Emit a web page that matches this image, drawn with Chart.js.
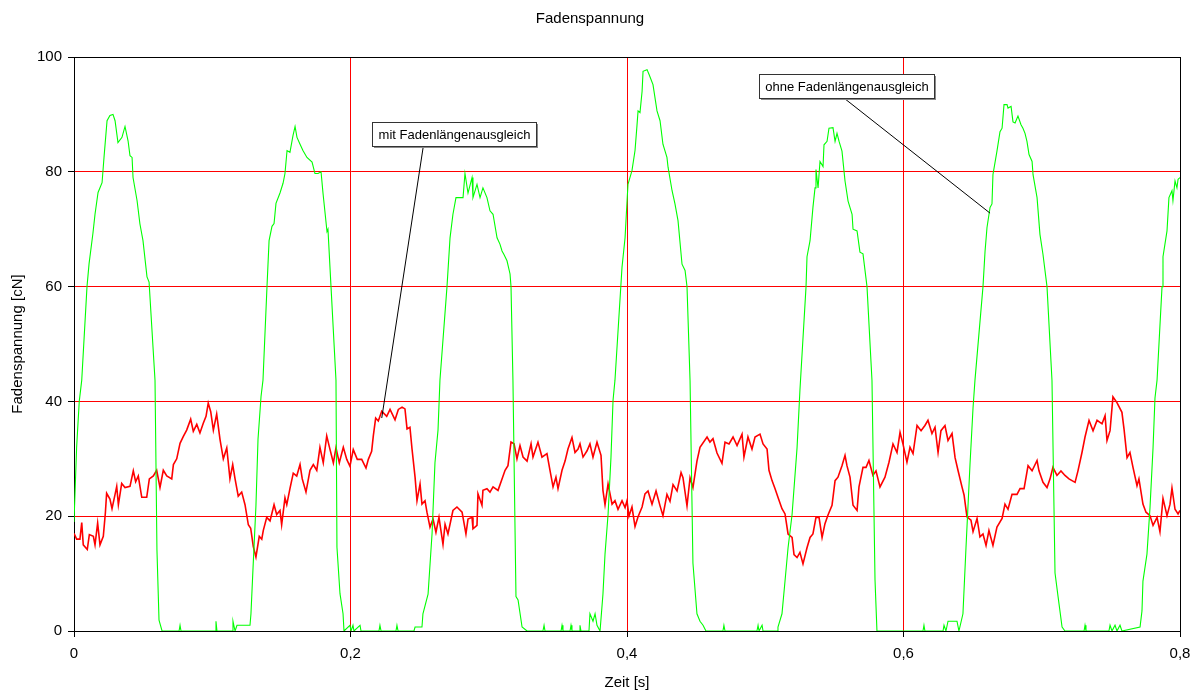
<!DOCTYPE html>
<html>
<head>
<meta charset="utf-8">
<title>Fadenspannung</title>
<script src="https://cdn.jsdelivr.net/npm/chart.js@4.4.1/dist/chart.umd.min.js"></script>
<style>
  html, body { margin: 0; padding: 0; background: #fff; }
  #wrap { width: 1199px; height: 698px; }
</style>
</head>
<body>
<div id="wrap"><canvas id="chart" width="1199" height="698"></canvas></div>
<script>
// time axis in seconds, force in cN

// mit Fadenlängenausgleich (red)
const redTime = [
  0, 0.0019, 0.0043, 0.0056, 0.0067, 0.0096, 0.0111, 0.0140, 0.0152, 0.0171,
  0.0188, 0.0212, 0.0227, 0.0236, 0.0260, 0.0275, 0.0297, 0.0309, 0.0321, 0.0345,
  0.0369, 0.0405, 0.0429, 0.0446, 0.0465, 0.0490, 0.0526, 0.0545, 0.0574, 0.0598,
  0.0622, 0.0646, 0.0671, 0.0707, 0.0719, 0.0743, 0.0767, 0.0791, 0.0815, 0.0844,
  0.0863, 0.0888, 0.0911, 0.0935, 0.0955, 0.0971, 0.0989, 0.1008, 0.1032, 0.1056,
  0.1080, 0.1105, 0.1128, 0.1148, 0.1165, 0.1188, 0.1213, 0.1237, 0.1261, 0.1278,
  0.1297, 0.1316, 0.1340, 0.1358, 0.1369, 0.1394, 0.1418, 0.1447, 0.1466, 0.1490,
  0.1502, 0.1526, 0.1539, 0.1562, 0.1586, 0.1611, 0.1635, 0.1651, 0.1678, 0.1707,
  0.1731, 0.1756, 0.1779, 0.1803, 0.1828, 0.1852, 0.1876, 0.1895, 0.1919, 0.1948,
  0.1973, 0.1996, 0.2020, 0.2049, 0.2081, 0.2112, 0.2129, 0.2153, 0.2165, 0.2182,
  0.2201, 0.2226, 0.2262, 0.2286, 0.2322, 0.2346, 0.2373, 0.2394, 0.2409, 0.2430,
  0.2445, 0.2467, 0.2481, 0.2503, 0.2517, 0.2539, 0.2553, 0.2575, 0.2597, 0.2618,
  0.2640, 0.2669, 0.2684, 0.2705, 0.2741, 0.2770, 0.2807, 0.2835, 0.2850, 0.2879,
  0.2886, 0.2915, 0.2922, 0.2951, 0.2958, 0.2987, 0.3009, 0.3031, 0.3067, 0.3096,
  0.3118, 0.3139, 0.3161, 0.3183, 0.3204, 0.3226, 0.3248, 0.3277, 0.3306, 0.3320,
  0.3356, 0.3385, 0.3421, 0.3443, 0.3465, 0.3486, 0.3501, 0.3530, 0.3552, 0.3573,
  0.3602, 0.3624, 0.3646, 0.3660, 0.3682, 0.3711, 0.3732, 0.3754, 0.3783, 0.3812,
  0.3826, 0.3841, 0.3863, 0.3892, 0.3913, 0.3935, 0.3964, 0.3986, 0.4000, 0.4014,
  0.4036, 0.4058, 0.4080, 0.4109, 0.4130, 0.4152, 0.4181, 0.4210, 0.4239, 0.4260,
  0.4289, 0.4311, 0.4333, 0.4362, 0.4391, 0.4405, 0.4434, 0.4456, 0.4477, 0.4506,
  0.4528, 0.4579, 0.4600, 0.4622, 0.4651, 0.4687, 0.4709, 0.4738, 0.4767, 0.4796,
  0.4832, 0.4846, 0.4875, 0.4904, 0.4926, 0.4962, 0.4984, 0.5013, 0.5027, 0.5049,
  0.5071, 0.5092, 0.5121, 0.5143, 0.5165, 0.5194, 0.5208, 0.5230, 0.5251, 0.5273,
  0.5302, 0.5324, 0.5345, 0.5367, 0.5389, 0.5411, 0.5432, 0.5454, 0.5483, 0.5505,
  0.5526, 0.5555, 0.5577, 0.5591, 0.5613, 0.5635, 0.5664, 0.5678, 0.5707, 0.5729,
  0.5750, 0.5779, 0.5801, 0.5830, 0.5866, 0.5895, 0.5924, 0.5953, 0.5975, 0.5996,
  0.6025, 0.6047, 0.6069, 0.6098, 0.6127, 0.6155, 0.6177, 0.6206, 0.6228, 0.6250,
  0.6271, 0.6300, 0.6322, 0.6351, 0.6373, 0.6394, 0.6423, 0.6438, 0.6459, 0.6488,
  0.6503, 0.6532, 0.6553, 0.6575, 0.6597, 0.6618, 0.6647, 0.6676, 0.6713, 0.6734,
  0.6756, 0.6785, 0.6821, 0.6843, 0.6872, 0.6901, 0.6930, 0.6966, 0.6980, 0.7009,
  0.7038, 0.7060, 0.7081, 0.7110, 0.7139, 0.7168, 0.7197, 0.7241, 0.7262, 0.7291,
  0.7313, 0.7342, 0.7371, 0.7400, 0.7436, 0.7458, 0.7472, 0.7494, 0.7515, 0.7544,
  0.7580, 0.7595, 0.7617, 0.7638, 0.7660, 0.7689, 0.7703, 0.7732, 0.7754, 0.7783,
  0.7805, 0.7834, 0.7855, 0.7877, 0.7906, 0.7928, 0.7942, 0.7964, 0.7986, 0.8000
];
const redForce = [
  17.0, 16.0, 16.0, 18.9, 15.0, 14.2, 16.8, 16.5, 15.0, 18.8,
  15.0, 16.5, 20.6, 24.0, 23.0, 21.3, 23.8, 25.2, 22.0, 25.7,
  25.0, 25.2, 27.9, 26.0, 27.0, 23.3, 23.3, 26.5, 27.0, 28.0,
  25.0, 28.0, 27.0, 26.5, 29.0, 30.0, 32.7, 33.9, 35.0, 36.9,
  34.8, 36.0, 34.5, 36.2, 37.4, 39.7, 38.2, 35.0, 37.8, 33.4,
  30.0, 31.9, 26.5, 29.0, 26.5, 23.5, 24.2, 22.0, 18.5, 17.9,
  14.7, 12.9, 16.5, 16.0, 17.5, 19.8, 19.2, 22.0, 20.3, 21.0,
  18.5, 23.2, 22.0, 24.8, 27.5, 27.0, 29.0, 26.5, 24.2, 28.0,
  29.0, 28.0, 32.0, 29.3, 34.0, 31.6, 29.3, 31.9, 29.3, 32.0,
  29.9, 28.7, 31.6, 29.9, 29.9, 28.4, 29.9, 31.3, 34.0, 37.1,
  36.6, 38.3, 37.4, 38.6, 36.8, 38.6, 39.0, 38.7, 35.2, 35.5,
  31.7, 26.8, 22.7, 25.6, 22.1, 22.7, 20.7, 18.1, 19.5, 17.2,
  19.8, 15.1, 18.6, 16.9, 21.0, 21.6, 20.7, 16.9, 19.5, 19.8,
  17.8, 18.4, 23.9, 21.9, 24.5, 24.8, 24.2, 25.1, 24.5, 26.5,
  28.0, 28.8, 32.9, 32.6, 30.0, 32.3, 30.3, 29.6, 32.6, 30.3,
  32.9, 30.3, 30.9, 28.0, 25.1, 26.8, 24.8, 28.0, 29.6, 31.7,
  33.7, 31.1, 31.7, 32.6, 30.3, 31.4, 32.6, 30.3, 32.9, 30.6,
  24.5, 22.0, 25.6, 22.1, 22.7, 21.2, 22.7, 21.5, 22.7, 20.0,
  21.6, 18.2, 19.9, 21.6, 23.9, 24.4, 22.1, 24.4, 21.8, 20.1,
  23.8, 22.6, 25.5, 24.4, 27.6, 26.7, 21.8, 26.7, 25.0, 29.6,
  32.0, 33.8, 32.9, 33.5, 31.0, 29.2, 32.9, 32.6, 33.8, 32.3,
  34.3, 30.3, 33.8, 31.7, 33.8, 34.3, 32.6, 31.7, 28.0, 26.2,
  24.8, 23.3, 21.3, 20.4, 16.9, 16.3, 13.3, 12.8, 13.7, 11.7,
  14.5, 16.3, 16.9, 19.8, 19.8, 16.3, 18.7, 20.2, 21.9, 26.2,
  26.8, 28.8, 30.6, 28.8, 26.8, 21.9, 21.0, 25.1, 28.5, 28.5,
  29.7, 27.1, 27.9, 25.1, 26.8, 29.4, 32.6, 31.1, 34.6, 32.6,
  29.4, 32.0, 30.9, 35.8, 34.9, 35.8, 36.7, 34.4, 35.5, 31.1,
  34.9, 35.8, 33.2, 34.4, 30.2, 28.0, 25.1, 23.7, 19.9, 19.3,
  17.3, 19.6, 16.4, 16.9, 14.9, 17.5, 14.9, 18.1, 19.6, 22.1,
  21.2, 23.8, 23.8, 24.8, 24.8, 28.8, 27.9, 29.7, 27.9, 25.9,
  25.0, 26.5, 28.5, 27.1, 27.9, 27.1, 26.5, 25.9, 27.9, 31.1,
  33.8, 36.7, 34.9, 36.7, 36.1, 37.5, 33.2, 34.9, 40.8, 39.8,
  38.1, 35.2, 30.2, 31.1, 28.5, 25.3, 26.5, 22.1, 20.7, 20.1,
  18.4, 19.8, 17.3, 23.1, 20.1, 22.1, 24.9, 21.2, 20.4, 21.0
];

// ohne Fadenlängenausgleich (green)
const greenTime = [
  0, 0.0019, 0.0038, 0.0056, 0.0094, 0.0109, 0.0137, 0.0152, 0.0174, 0.0203,
  0.0217, 0.0239, 0.0260, 0.0282, 0.0297, 0.0318, 0.0347, 0.0369, 0.0391, 0.0405,
  0.0420, 0.0427, 0.0456, 0.0477, 0.0499, 0.0528, 0.0543, 0.0586, 0.0600, 0.0615,
  0.0637, 0.0760, 0.0767, 0.0774, 0.1020, 0.1027, 0.1034, 0.1143, 0.1150, 0.1165,
  0.1179, 0.1201, 0.1273, 0.1280, 0.1295, 0.1316, 0.1331, 0.1353, 0.1367, 0.1396,
  0.1411, 0.1432, 0.1447, 0.1461, 0.1490, 0.1512, 0.1526, 0.1541, 0.1562, 0.1584,
  0.1599, 0.1613, 0.1635, 0.1656, 0.1685, 0.1722, 0.1743, 0.1765, 0.1787, 0.1801,
  0.1830, 0.1837, 0.1859, 0.1895, 0.1902, 0.1924, 0.1946, 0.1953, 0.1996, 0.2004,
  0.2018, 0.2025, 0.2069, 0.2076, 0.2206, 0.2213, 0.2221, 0.2329, 0.2336, 0.2344,
  0.2459, 0.2467, 0.2517, 0.2524, 0.2561, 0.2590, 0.2611, 0.2633, 0.2647, 0.2698,
  0.2720, 0.2741, 0.2763, 0.2785, 0.2814, 0.2828, 0.2850, 0.2879, 0.2886, 0.2915,
  0.2937, 0.2958, 0.2987, 0.3009, 0.3031, 0.3060, 0.3081, 0.3096, 0.3110, 0.3132,
  0.3154, 0.3161, 0.3175, 0.3197, 0.3212, 0.3241, 0.3277, 0.3392, 0.3400, 0.3407,
  0.3523, 0.3530, 0.3537, 0.3588, 0.3595, 0.3602, 0.3653, 0.3660, 0.3667, 0.3725,
  0.3732, 0.3754, 0.3769, 0.3783, 0.3805, 0.3826, 0.3841, 0.3863, 0.3884, 0.3899,
  0.3913, 0.3964, 0.3986, 0.4007, 0.4036, 0.4058, 0.4072, 0.4080, 0.4094, 0.4109,
  0.4116, 0.4145, 0.4159, 0.4188, 0.4217, 0.4239, 0.4260, 0.4289, 0.4297, 0.4326,
  0.4347, 0.4369, 0.4398, 0.4420, 0.4434, 0.4456, 0.4477, 0.4506, 0.4528, 0.4550,
  0.4571, 0.4694, 0.4701, 0.4709, 0.4940, 0.4948, 0.4955, 0.4977, 0.4984, 0.5085,
  0.5092, 0.5121, 0.5143, 0.5165, 0.5194, 0.5230, 0.5251, 0.5295, 0.5302, 0.5324,
  0.5345, 0.5360, 0.5367, 0.5382, 0.5396, 0.5418, 0.5425, 0.5447, 0.5461, 0.5490,
  0.5505, 0.5519, 0.5534, 0.5555, 0.5577, 0.5599, 0.5628, 0.5635, 0.5664, 0.5685,
  0.5707, 0.5736, 0.5772, 0.5794, 0.5808, 0.6141, 0.6148, 0.6155, 0.6286, 0.6293,
  0.6307, 0.6322, 0.6387, 0.6401, 0.6430, 0.6452, 0.6481, 0.6503, 0.6517, 0.6575,
  0.6590, 0.6604, 0.6626, 0.6640, 0.6647, 0.6676, 0.6698, 0.6713, 0.6727, 0.6749,
  0.6756, 0.6778, 0.6792, 0.6807, 0.6828, 0.6850, 0.6864, 0.6879, 0.6893, 0.6908,
  0.6930, 0.6937, 0.6966, 0.6987, 0.7009, 0.7038, 0.7074, 0.7096, 0.7118, 0.7147,
  0.7168, 0.7306, 0.7313, 0.7320, 0.7486, 0.7494, 0.7508, 0.7530, 0.7544, 0.7566,
  0.7580, 0.7711, 0.7725, 0.7732, 0.7761, 0.7783, 0.7805, 0.7819, 0.7834, 0.7870,
  0.7877, 0.7906, 0.7920, 0.7942, 0.7949, 0.7964, 0.7978, 0.7986, 0.8000
];
const greenForce = [
  19, 32, 40, 43.7, 60, 64, 69.3, 72.6, 76.4, 78.1,
  82.5, 88.9, 89.8, 90, 88.9, 85.1, 86, 87.9, 85.4, 82.8,
  82.5, 79, 75, 70.9, 68, 61.7, 60.8, 43.7, 14.1, 1.9,
  0, 0, 1, 0, 0, 1.7, 0, 0, 1.7, 0,
  1, 1, 1, 3, 11, 21.8, 33.4, 40.9, 43.7, 60,
  68, 70.5, 71, 74.5, 76.3, 78, 79.7, 83.7, 83.4, 86.3,
  87.9, 86, 84.8, 83.7, 82.5, 81.7, 79.7, 79.7, 80, 76.3,
  69.6, 70, 60, 43.7, 14.6, 6.5, 3, 0, 1, 0,
  1, 0, 1, 0, 0, 1, 0, 0, 1, 0,
  0, 0.7, 0.7, 3, 6.4, 17, 29.3, 35, 43.7, 60,
  68.5, 72.6, 75.5, 75.5, 75.5, 79.7, 76.3, 79, 75.5, 77.8,
  75.5, 77.2, 75.5, 73.2, 72.6, 68.5, 67.4, 66.2, 65.6, 64.5,
  62.2, 60, 43.7, 6, 5.4, 0.7, 0, 0, 1, 0,
  0, 1, 0, 0, 1, 0, 0, 1, 0, 0,
  3, 1.7, 3, 1, 0, 6.4, 13.4, 20.3, 30.2, 40.2,
  43.7, 63.4, 68.5, 77.8, 80.2, 83.7, 88, 90.6, 90.3, 94,
  97.5, 97.8, 97, 95.2, 90.6, 88.9, 84.8, 82.5, 80.8, 76.7,
  74.4, 71.5, 63.9, 62.8, 60, 43.7, 11.8, 3, 1.7, 1,
  0, 0, 1, 0, 0, 1, 0, 1, 0, 0,
  0.7, 3, 8.7, 14.5, 20.3, 31.9, 42, 60, 65.2, 68,
  73.8, 77.2, 80.4, 77.2, 81.8, 80.9, 84.7, 85.3, 87.6, 87.7,
  85.3, 86.7, 85.3, 83.6, 78.4, 74.9, 72.6, 70, 69.7, 66,
  65.7, 60, 43.7, 8.9, 0, 0, 1, 0, 0, 1,
  0, 1.7, 1.7, 0, 3, 14.5, 29, 38.9, 43.7, 60,
  66.2, 70.3, 73.8, 74.4, 79.5, 83.6, 87, 87.6, 91.7, 91.7,
  91.1, 91.4, 88.7, 88.5, 89.7, 88.2, 87.6, 86.7, 85.3, 83,
  81.8, 79.5, 75.5, 69.1, 65.6, 60, 43.7, 10.1, 6, 0.7,
  0, 0, 1, 0, 0, 1, 0, 1, 0, 1,
  0, 0.7, 3.5, 8.7, 13.4, 21.5, 31.9, 40.6, 43.7, 60,
  65.2, 69.7, 75.5, 76.7, 75, 78.4, 77.2, 78.7, 79
];

// callouts: text, box top-left (s, cN), leader line from box to curve (s, cN)
const calloutText = ['mit Fadenlängenausgleich', 'ohne Fadenlängenausgleich'];
const calloutBoxAt = [[0.2153, 88.7], [0.4957, 97.0]];
const calloutLineFrom = [[0.2527, 84.5], [0.5577, 92.7]];
const calloutLineTo = [[0.2226, 37.1], [0.6626, 72.8]];

const FONT = "'Liberation Sans', Arial, Helvetica, sans-serif";
Chart.defaults.font.family = FONT;
Chart.defaults.color = '#000';

function toPoints(times, values) {
  return times.map((t, i) => ({ x: t, y: values[i] }));
}

// comma as decimal separator, like the original
function germanTick(value) {
  if (Math.abs(value) < 1e-9) return '0';
  return value.toFixed(1).replace('.', ',');
}

// black frame round the plot area
const plotFrame = {
  id: 'plotFrame',
  beforeDatasetsDraw(chart) {
    const { ctx, chartArea } = chart;
    ctx.save();
    ctx.strokeStyle = '#000';
    ctx.lineWidth = 1;
    ctx.strokeRect(Math.round(chartArea.left) + 0.5, Math.round(chartArea.top) + 0.5,
      Math.round(chartArea.right - chartArea.left), Math.round(chartArea.bottom - chartArea.top));
    ctx.restore();
  }
};

// text boxes with leader lines
const callouts = {
  id: 'callouts',
  afterDatasetsDraw(chart) {
    const { ctx } = chart;
    const xs = chart.scales.x;
    const ys = chart.scales.y;
    ctx.save();
    ctx.font = '13px ' + FONT;
    calloutText.forEach((text, i) => {
      // leader line
      ctx.strokeStyle = '#000';
      ctx.lineWidth = 1;
      ctx.beginPath();
      ctx.moveTo(xs.getPixelForValue(calloutLineFrom[i][0]), ys.getPixelForValue(calloutLineFrom[i][1]));
      ctx.lineTo(xs.getPixelForValue(calloutLineTo[i][0]), ys.getPixelForValue(calloutLineTo[i][1]));
      ctx.stroke();

      const left = Math.round(xs.getPixelForValue(calloutBoxAt[i][0])) + 0.5;
      const top = Math.round(ys.getPixelForValue(calloutBoxAt[i][1])) + 0.5;
      const w = Math.round(ctx.measureText(text).width + 12);
      const h = 24;
      // small shadow
      ctx.fillStyle = '#8a8a8a';
      ctx.fillRect(left + 1.5, top + 1.5, w, h);
      ctx.fillStyle = '#fff';
      ctx.fillRect(left, top, w, h);
      ctx.strokeStyle = '#333';
      ctx.strokeRect(left, top, w, h);
      ctx.fillStyle = '#000';
      ctx.textAlign = 'center';
      ctx.textBaseline = 'middle';
      ctx.fillText(text, left + w / 2, top + h / 2 + 1);
    });
    ctx.restore();
  }
};

const axisFont = { size: 15, family: FONT };
const gridRed = () => '#ff0000';

new Chart(document.getElementById('chart').getContext('2d'), {
  type: 'line',
  data: {
    datasets: [
      { label: calloutText[1], data: toPoints(greenTime, greenForce), borderColor: '#00ff00', borderWidth: 1.1, pointRadius: 0, tension: 0, fill: false },
      { label: calloutText[0], data: toPoints(redTime, redForce), borderColor: '#ff0000', borderWidth: 1.6, pointRadius: 0, tension: 0, fill: false }
    ]
  },
  options: {
    responsive: false,
    animation: false,
    devicePixelRatio: 1,
    layout: { padding: { top: 0, right: 19, bottom: 0, left: 0 } },
    plugins: {
      legend: { display: false },
      tooltip: { enabled: false },
      title: {
        display: true,
        text: 'Fadenspannung',
        color: '#000',
        font: { size: 15, weight: 'normal', family: FONT },
        padding: { top: 10, bottom: 29 }
      }
    },
    scales: {
      x: {
        type: 'linear',
        min: 0,
        max: 0.8,
        ticks: { stepSize: 0.2, callback: germanTick, font: axisFont, color: '#000', padding: 8, autoSkip: false, maxRotation: 0 },
        grid: { color: gridRed, lineWidth: 1, tickColor: '#000', tickLength: 6 },
        border: { color: '#000', width: 1 },
        title: { display: true, text: 'Zeit [s]', font: axisFont, color: '#000', padding: { top: 0, bottom: 6 } },
        afterFit(scale) { scale.height = 67; }
      },
      y: {
        min: 0,
        max: 100,
        ticks: { stepSize: 20, font: axisFont, color: '#000', padding: 6 },
        grid: { color: gridRed, lineWidth: 1, tickColor: '#000', tickLength: 6 },
        border: { color: '#000', width: 1 },
        title: { display: true, text: 'Fadenspannung [cN]', font: axisFont, color: '#000', padding: { top: 9, bottom: 0 } },
        afterFit(scale) { scale.width = 74; }
      }
    }
  },
  plugins: [plotFrame, callouts]
});
</script>
</body>
</html>
